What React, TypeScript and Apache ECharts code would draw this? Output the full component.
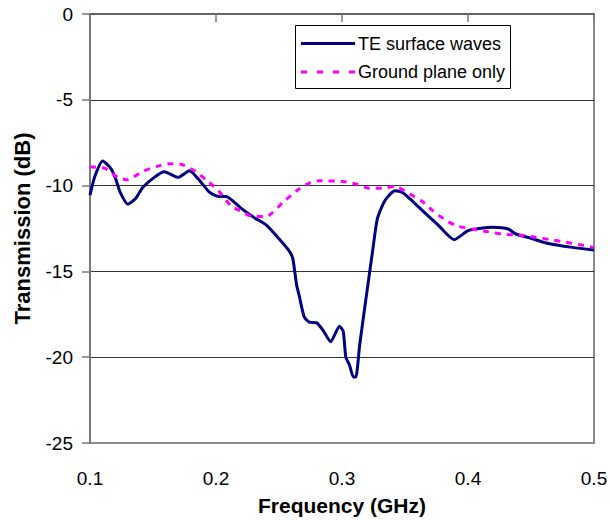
import React, { useEffect, useRef } from "react";
import * as echarts from "echarts";

const teFreq = [0.100, 0.104, 0.110, 0.116, 0.120, 0.124, 0.130, 0.136, 0.142, 0.151, 0.159, 0.170, 0.179, 0.186, 0.195, 0.202, 0.208, 0.220, 0.231, 0.240, 0.250, 0.258, 0.261, 0.264, 0.266, 0.270, 0.274, 0.280, 0.285, 0.291, 0.298, 0.301, 0.303, 0.306, 0.309, 0.311, 0.314, 0.319, 0.3245, 0.328, 0.334, 0.342, 0.348, 0.354, 0.362, 0.376, 0.389, 0.400, 0.410, 0.420, 0.432, 0.438, 0.450, 0.462, 0.483, 0.500];
const teDb = [-10.55, -9.43, -8.56, -8.95, -9.52, -10.4, -11.08, -10.77, -10.1, -9.52, -9.2, -9.52, -9.14, -9.62, -10.4, -10.63, -10.63, -11.33, -11.9, -12.3, -13.1, -13.8, -14.27, -15.8, -16.4, -17.66, -17.95, -18.0, -18.44, -19.1, -18.19, -18.5, -19.99, -20.47, -21.15, -21.15, -19.3, -16.6, -13.7, -11.95, -10.88, -10.3, -10.4, -10.78, -11.33, -12.28, -13.15, -12.63, -12.49, -12.43, -12.53, -12.82, -13.07, -13.34, -13.6, -13.75];

const gpFreq = [0.100, 0.112, 0.122, 0.130, 0.141, 0.153, 0.163, 0.172, 0.183, 0.192, 0.202, 0.212, 0.219, 0.229, 0.240, 0.253, 0.264, 0.274, 0.282, 0.301, 0.311, 0.322, 0.332, 0.342, 0.354, 0.363, 0.372, 0.383, 0.392, 0.403, 0.416, 0.428, 0.441, 0.454, 0.467, 0.481, 0.500];
const gpDb = [-8.9, -9.0, -9.52, -9.66, -9.2, -8.88, -8.73, -8.75, -9.14, -9.66, -10.3, -11.2, -11.46, -11.8, -11.8, -10.98, -10.3, -9.85, -9.72, -9.76, -9.91, -10.16, -10.16, -10.05, -10.5, -10.88, -11.46, -12.05, -12.37, -12.53, -12.69, -12.84, -12.88, -13.01, -13.17, -13.34, -13.6];

const seriesNames = ["TE surface waves", "Ground plane only"];
const xTitle = "Frequency (GHz)";
const yTitle = "Transmission (dB)";

const FONT = "'Liberation Sans', Arial, sans-serif";

export default function App() {
  const ref = useRef<HTMLDivElement>(null);
  useEffect(() => {
    if (!ref.current) return;
    const chart = echarts.init(ref.current, null, { renderer: "svg" });
    const te = teFreq.map((f, i) => [f, teDb[i]]);
    const gp = gpFreq.map((f, i) => [f, gpDb[i]]);
    chart.setOption({
      animation: false,
      backgroundColor: "#ffffff",
      textStyle: { fontFamily: FONT },
      grid: {
        left: 90,
        right: 17,
        top: 14,
        bottom: 77,
        show: true,
        borderColor: "#8c8c8c",
        borderWidth: 2,
        backgroundColor: "transparent",
      },
      xAxis: {
        type: "value",
        min: 0.1,
        max: 0.5,
        interval: 0.1,
        name: xTitle,
        nameLocation: "middle",
        nameGap: 52,
        nameTextStyle: { fontFamily: FONT, fontSize: 21, fontWeight: "bold", color: "#000" },
        axisLine: { lineStyle: { color: "#555", width: 1.5 } },
        axisTick: { show: true, inside: false, length: 8, lineStyle: { color: "#777", width: 1.5 } },
        axisLabel: {
          margin: 26,
          fontFamily: FONT,
          fontSize: 19,
          color: "#000",
          formatter: (v: number) => v.toFixed(1),
        },
        splitLine: { show: false },
      },
      yAxis: {
        type: "value",
        min: -25,
        max: 0,
        interval: 5,
        name: yTitle,
        nameLocation: "middle",
        nameGap: 57,
        nameTextStyle: { fontFamily: FONT, fontSize: 22, fontWeight: "bold", color: "#000" },
        axisLine: { show: true, lineStyle: { color: "#777", width: 2 } },
        axisTick: { show: true, inside: false, length: 8, lineStyle: { color: "#777", width: 1.5 } },
        axisLabel: { margin: 17, fontFamily: FONT, fontSize: 19, color: "#000" },
        splitLine: {
          show: true,
          showMinLine: false,
          showMaxLine: false,
          lineStyle: { color: "#333", width: 1 },
        },
      },
      series: [
        {
          name: seriesNames[0],
          type: "line",
          data: te,
          showSymbol: false,
          symbol: "none",
          smooth: 0.2,
          lineStyle: { color: "#000080", width: 3 },
          z: 3,
        },
        {
          name: seriesNames[1],
          type: "line",
          data: gp,
          showSymbol: false,
          symbol: "none",
          smooth: 0.2,
          lineStyle: { color: "#ff00ff", width: 3, type: [6, 6] },
          z: 4,
        },
      ],
      graphic: [
        {
          type: "group",
          z: 100,
          children: [
            {
              type: "rect",
              shape: { x: 295.5, y: 25.5, width: 215, height: 63 },
              style: { fill: "#fff", stroke: "#000", lineWidth: 1 },
            },
            {
              type: "line",
              shape: { x1: 301, y1: 43.5, x2: 355, y2: 43.5 },
              style: { stroke: "#000080", lineWidth: 3 },
            },
            {
              type: "text",
              x: 358,
              y: 43.5,
              style: {
                text: seriesNames[0],
                font: `18px ${FONT}`,
                fill: "#000",
                verticalAlign: "middle",
                align: "left",
              },
            },
            {
              type: "line",
              shape: { x1: 301, y1: 72, x2: 355, y2: 72 },
              style: { stroke: "#ff00ff", lineWidth: 3, lineDash: [6, 10] },
            },
            {
              type: "text",
              x: 358,
              y: 72,
              style: {
                text: seriesNames[1],
                font: `18px ${FONT}`,
                fill: "#000",
                verticalAlign: "middle",
                align: "left",
              },
            },
          ],
        },
      ],
    });
    return () => chart.dispose();
  }, []);
  return (
    <div
      ref={ref}
      style={{ position: "fixed", left: 0, top: 0, width: 611, height: 521, background: "#fff" }}
    />
  );
}
